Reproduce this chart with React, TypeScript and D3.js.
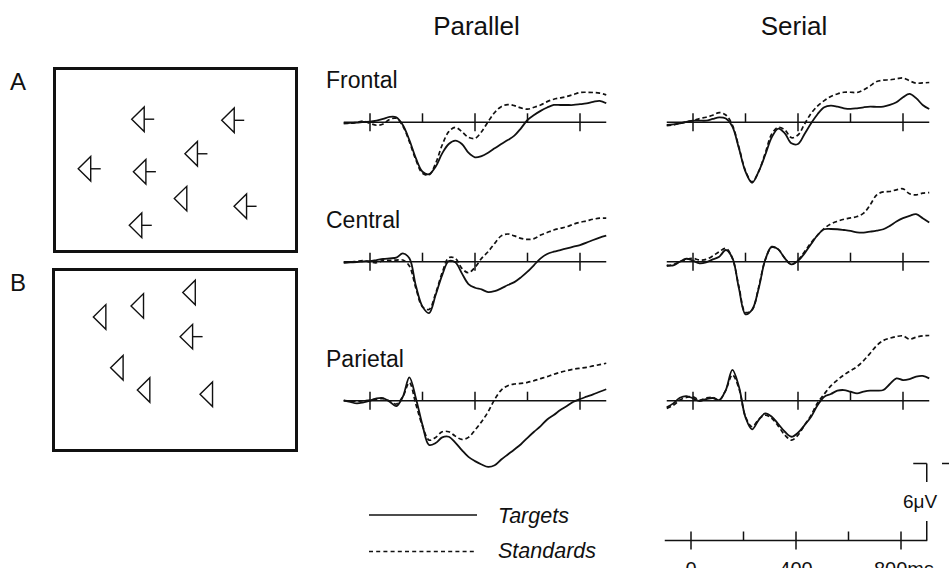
import React from "react";
import * as d3 from "d3";

// Sampling grid of the averaged waveforms (ms relative to stimulus onset)
const TIMES_MS = [
  -100, -75, -50, -25, 0, 25, 50, 75, 100, 125, 150, 175, 200, 225, 250, 275, 300, 325, 350, 375,
  400, 425, 450, 475, 500, 525, 550, 575, 600, 625, 650, 675, 700, 725, 750, 775, 800, 825, 850, 875, 900,
];

const CONDITIONS = ["Parallel", "Serial"];
const SITES = ["Frontal", "Central", "Parietal"];
const TIME_TICKS = [0, 200, 400, 600, 800];
const MAJOR_TICKS = [0, 400, 800];
const TIME_LABELS = ["0", "400", "800ms"];
const SCALE_BAR_UV = 6;

// Grand-average amplitudes (µV) per condition and electrode site
const parallelFrontalTargets = [-0.08, -0.05, -0.03, 0.03, 0.05, 0.13, 0.26, 0.42, 0.39, -0.21, -1.38, -2.81, -3.85, -4.04, -3.46, -2.42, -1.69, -1.43, -1.69, -2.37, -2.73, -2.63, -2.37, -2.03, -1.69, -1.38, -1.04, -0.47, 0.18, 0.57, 0.89, 1.15, 1.35, 1.35, 1.35, 1.35, 1.41, 1.48, 1.59, 1.67, 1.48];
const parallelFrontalStandards = [-0.08, -0.08, 0, 0.1, -0.08, -0.23, -0.13, 0.23, 0.31, -0.29, -1.51, -2.94, -3.98, -4.11, -3.2, -1.77, -0.73, -0.39, -0.73, -1.17, -1.25, -0.73, 0.05, 0.76, 1.22, 1.38, 1.3, 1.12, 1.02, 1.17, 1.35, 1.61, 1.8, 1.9, 2.01, 2.16, 2.32, 2.34, 2.32, 2.27, 2.14];
const serialFrontalTargets = [-0.21, -0.16, -0.08, 0.03, 0.13, 0.13, 0.13, 0.26, 0.39, 0.29, -0.34, -2.03, -3.85, -4.71, -3.85, -2.55, -1.17, -0.49, -0.86, -1.64, -1.69, -0.91, -0.08, 0.65, 1.17, 1.3, 1.22, 1.09, 1.04, 1.09, 1.17, 1.22, 1.2, 1.22, 1.35, 1.56, 1.95, 2.21, 1.88, 1.35, 1.04];
const serialFrontalStandards = [-0.26, -0.21, -0.08, 0.03, 0.13, 0.29, 0.39, 0.55, 0.76, 0.57, -0.21, -1.95, -3.78, -4.64, -3.85, -2.42, -0.91, -0.39, -0.6, -1.2, -0.99, -0.13, 0.7, 1.28, 1.69, 2.01, 2.21, 2.34, 2.34, 2.32, 2.53, 2.84, 3.18, 3.28, 3.31, 3.39, 3.46, 3.23, 3.05, 3.07, 3.1];

const parallelCentralTargets = [-0.08, -0.05, -0.03, 0.03, 0.05, 0.13, 0.21, 0.26, 0.31, 0.65, 0.26, -1.9, -3.5, -4.0, -2.6, -1.04, 0.05, -0.05, -0.91, -1.74, -2.03, -2.16, -2.37, -2.29, -2.08, -1.82, -1.59, -1.22, -0.78, -0.26, 0.26, 0.6, 0.78, 0.91, 1.04, 1.17, 1.3, 1.48, 1.69, 1.88, 2.03];
const parallelCentralStandards = [-0.05, -0.03, 0.03, 0.08, -0.03, -0.08, 0.08, 0.1, 0.13, 0.13, -0.34, -2.08, -3.52, -3.72, -2.47, -0.86, 0.31, 0.26, -0.52, -0.86, -0.44, 0.26, 0.78, 1.43, 2.01, 2.16, 2.01, 1.82, 1.74, 1.8, 2.08, 2.27, 2.47, 2.6, 2.73, 2.92, 3.07, 3.18, 3.31, 3.39, 3.39];
const serialCentralTargets = [-0.26, -0.29, 0, 0.23, 0.08, -0.13, -0.05, 0.18, 0.39, 0.91, 0.3, -2.08, -4.1, -3.75, -2.1, 0.13, 1.17, 0.96, 0.26, -0.21, 0.08, 0.65, 1.38, 2.08, 2.53, 2.55, 2.53, 2.47, 2.4, 2.29, 2.27, 2.34, 2.42, 2.53, 2.79, 3.13, 3.39, 3.57, 3.7, 3.39, 3.05];
const serialCentralStandards = [-0.34, -0.23, 0, 0.18, 0.26, 0.13, 0.18, 0.44, 0.78, 1.04, 0.26, -1.95, -3.95, -3.75, -2.0, 0.13, 1.12, 0.96, 0.26, -0.21, 0.13, 0.78, 1.48, 2.08, 2.6, 2.94, 3.15, 3.31, 3.41, 3.52, 3.78, 4.43, 5.21, 5.44, 5.47, 5.6, 5.68, 5.29, 5.21, 5.34, 5.39];

const parallelParietalTargets = [0.03, -0.1, -0.21, -0.13, 0, 0.18, 0.21, -0.08, -0.42, 0.31, 1.82, 0.18, -1.9, -3.45, -3.3, -2.86, -2.81, -3.26, -3.85, -4.38, -4.71, -4.97, -5.16, -5.03, -4.58, -4.19, -3.8, -3.39, -2.89, -2.42, -1.98, -1.46, -1.12, -0.73, -0.42, -0.08, 0.13, 0.31, 0.49, 0.7, 0.89];
const parallelParietalStandards = [0, -0.03, -0.05, 0, 0.05, 0.13, 0.16, -0.03, -0.26, 0.31, 1.41, -0.3, -1.98, -3.07, -2.86, -2.42, -2.42, -2.76, -3.02, -2.86, -2.29, -1.64, -0.86, 0.1, 0.83, 1.17, 1.3, 1.35, 1.43, 1.56, 1.72, 1.88, 2.06, 2.21, 2.34, 2.45, 2.53, 2.6, 2.71, 2.81, 2.92];
const serialParietalTargets = [-0.52, -0.21, 0.23, 0.36, 0.18, -0.03, 0.13, 0.21, 0.05, 0.83, 2.4, 1.09, -1.3, -2.24, -1.51, -0.99, -1.25, -1.82, -2.42, -2.81, -2.5, -1.9, -1.25, -0.34, 0.31, 0.52, 0.78, 0.83, 0.7, 0.57, 0.7, 0.78, 0.78, 0.83, 1.3, 1.74, 1.61, 1.69, 1.88, 1.93, 1.74];
const serialParietalStandards = [-0.6, -0.36, 0.05, 0.26, 0.31, 0.05, 0.21, 0.26, 0.05, 0.83, 2.01, 0.96, -1.25, -2.03, -1.46, -1.12, -1.38, -1.98, -2.68, -3.07, -2.68, -1.9, -1.12, -0.16, 0.52, 1.15, 1.61, 2.01, 2.34, 2.66, 3.13, 3.7, 4.3, 4.69, 4.87, 5.0, 5.05, 4.79, 4.95, 5.05, 5.08];

const WAVEFORMS: Record<string, Record<string, { targets: number[]; standards: number[] }>> = {
  Parallel: {
    Frontal: { targets: parallelFrontalTargets, standards: parallelFrontalStandards },
    Central: { targets: parallelCentralTargets, standards: parallelCentralStandards },
    Parietal: { targets: parallelParietalTargets, standards: parallelParietalStandards },
  },
  Serial: {
    Frontal: { targets: serialFrontalTargets, standards: serialFrontalStandards },
    Central: { targets: serialCentralTargets, standards: serialCentralStandards },
    Parietal: { targets: serialParietalTargets, standards: serialParietalStandards },
  },
};

// Example search displays: item location within the frame (fractions) and whether it carries a stem
const displayA = [
  { fx: 0.319, fy: 0.277, stem: true },
  { fx: 0.691, fy: 0.283, stem: true },
  { fx: 0.539, fy: 0.466, stem: true },
  { fx: 0.098, fy: 0.548, stem: true },
  { fx: 0.326, fy: 0.564, stem: true },
  { fx: 0.495, fy: 0.711, stem: false },
  { fx: 0.742, fy: 0.753, stem: true },
  { fx: 0.309, fy: 0.857, stem: true },
];
const displayB = [
  { fx: 0.532, fy: 0.127, stem: false },
  { fx: 0.319, fy: 0.201, stem: false },
  { fx: 0.164, fy: 0.262, stem: false },
  { fx: 0.521, fy: 0.371, stem: true },
  { fx: 0.235, fy: 0.543, stem: false },
  { fx: 0.345, fy: 0.666, stem: false },
  { fx: 0.603, fy: 0.689, stem: false },
];

const FONT = "'Liberation Sans', Arial, Helvetica, sans-serif";
const INK = "#111";

type Item = { fx: number; fy: number; stem: boolean };

function SearchDisplay({ label, box, items }: { label: string; box: { x: number; y: number; w: number; h: number }; items: Item[] }) {
  const sx = d3.scaleLinear().domain([0, 1]).range([box.x, box.x + box.w]);
  const sy = d3.scaleLinear().domain([0, 1]).range([box.y, box.y + box.h]);
  const tw = 12.5;
  const th = 12.3;
  const stemLen = 10;
  return (
    <g>
      <text x={10} y={box.y + 21} fontSize={24} fontFamily={FONT} fill={INK}>{label}</text>
      <rect x={box.x} y={box.y} width={box.w} height={box.h} fill="none" stroke={INK} strokeWidth={3} />
      {items.map((it, i) => {
        const tx = sx(it.fx);
        const cy = sy(it.fy);
        return (
          <g key={i} fill="none" stroke={INK} strokeWidth={1.4} strokeLinejoin="miter">
            <path d={`M${tx},${cy}L${tx + tw},${cy - th}L${tx + tw},${cy + th}Z`} />
            {it.stem && <line x1={tx + tw} x2={tx + tw + stemLen} y1={cy} y2={cy} />}
          </g>
        );
      })}
    </g>
  );
}

export default function App() {
  const width = 949;
  const height = 568;
  const pxPerUv = 77 / 6;

  const xScales: Record<string, d3.ScaleLinear<number, number>> = {
    Parallel: d3.scaleLinear().domain([-100, 900]).range([343.75, 606.25]),
    Serial: d3.scaleLinear().domain([-100, 900]).range([666.75, 929.25]),
  };
  const rowBaselines = [122.3, 261.7, 400.7];
  const siteLabelBaselines = [88.3, 228.3, 367.3];

  const timeAxis = d3.scaleLinear().domain([-100, 900]).range([664.75, 927.25]);
  const timeAxisY = 540.5;
  const barScale = d3.scaleLinear().domain([0, 1]).range([timeAxisY, timeAxisY - pxPerUv]);
  const barX = timeAxis(900) - 0.5;

  const panels: React.ReactNode[] = [];
  CONDITIONS.forEach((cond) => {
    const x = xScales[cond];
    SITES.forEach((site, r) => {
      const y0 = rowBaselines[r];
      const y = d3.scaleLinear().domain([0, 1]).range([y0, y0 - pxPerUv]);
      const line = d3
        .line<number>()
        .x((_, i) => x(TIMES_MS[i]))
        .y((d) => y(d))
        .curve(d3.curveCatmullRom.alpha(0.5));
      const w = WAVEFORMS[cond][site];
      panels.push(
        <g key={`${cond}-${site}`}>
          <line x1={x(-100)} x2={x(900)} y1={y0} y2={y0} stroke={INK} strokeWidth={1.5} />
          {TIME_TICKS.map((t) => (
            <line
              key={t}
              x1={x(t)}
              x2={x(t)}
              y1={y0 - 9}
              y2={MAJOR_TICKS.includes(t) ? y0 + 9 : y0}
              stroke={INK}
              strokeWidth={1.5}
            />
          ))}
          <path d={line(w.standards) || ""} fill="none" stroke={INK} strokeWidth={1.7} strokeDasharray="4.5 2.8" />
          <path d={line(w.targets) || ""} fill="none" stroke={INK} strokeWidth={1.8} />
        </g>
      );
    });
  });

  return (
    <svg
      width={width}
      height={height}
      viewBox={`0 0 ${width} ${height}`}
      style={{ position: "absolute", left: 0, top: 0, background: "#fff" }}
    >
      <rect x={0} y={0} width={width} height={height} fill="#fff" />

      <SearchDisplay label="A" box={{ x: 54.5, y: 68.5, w: 242, h: 183 }} items={displayA} />
      <SearchDisplay label="B" box={{ x: 53.5, y: 269.5, w: 243, h: 181 }} items={displayB} />

      <text x={476.5} y={35} textAnchor="middle" fontSize={26} fontFamily={FONT} fill={INK}>{CONDITIONS[0]}</text>
      <text x={794} y={35} textAnchor="middle" fontSize={26} fontFamily={FONT} fill={INK}>{CONDITIONS[1]}</text>

      {SITES.map((s, i) => (
        <text key={s} x={326} y={siteLabelBaselines[i]} fontSize={23} fontFamily={FONT} fill={INK}>{s}</text>
      ))}

      {panels}

      {/* legend */}
      <line x1={369} x2={477} y1={515} y2={515} stroke={INK} strokeWidth={1.5} />
      <text x={498} y={522.5} fontSize={21.5} fontStyle="italic" fontFamily={FONT} fill={INK}>Targets</text>
      <line x1={369} x2={477} y1={551.5} y2={551.5} stroke={INK} strokeWidth={1.3} strokeDasharray="4 3.2" />
      <text x={498} y={558} fontSize={21.5} fontStyle="italic" fontFamily={FONT} fill={INK}>Standards</text>

      {/* time axis */}
      <line x1={timeAxis(-100)} x2={timeAxis(900)} y1={timeAxisY} y2={timeAxisY} stroke={INK} strokeWidth={1.5} />
      {TIME_TICKS.map((t) => (
        <line
          key={t}
          x1={timeAxis(t)}
          x2={timeAxis(t)}
          y1={timeAxisY - 9}
          y2={MAJOR_TICKS.includes(t) ? timeAxisY + 9 : timeAxisY}
          stroke={INK}
          strokeWidth={1.5}
        />
      ))}
      {MAJOR_TICKS.map((t, i) => (
        <text
          key={t}
          x={i === 2 ? timeAxis(t) - 27 : timeAxis(t)}
          y={576}
          textAnchor={i === 2 ? "start" : "middle"}
          fontSize={20}
          fontFamily={FONT}
          fill={INK}
        >
          {TIME_LABELS[i]}
        </text>
      ))}

      {/* amplitude scale bar */}
      <g stroke={INK} strokeWidth={1.5} fill="none">
        <line x1={barX - 13.5} x2={barX} y1={barScale(SCALE_BAR_UV)} y2={barScale(SCALE_BAR_UV)} />
        <line x1={barX} x2={barX} y1={barScale(SCALE_BAR_UV)} y2={482} />
        <line x1={barX} x2={barX} y1={521} y2={barScale(0)} />
        <line x1={942} x2={949} y1={barScale(SCALE_BAR_UV)} y2={barScale(SCALE_BAR_UV)} />
      </g>
      <text x={903} y={508} fontSize={19} fontFamily={FONT} fill={INK}>{`${SCALE_BAR_UV}μV`}</text>
    </svg>
  );
}
